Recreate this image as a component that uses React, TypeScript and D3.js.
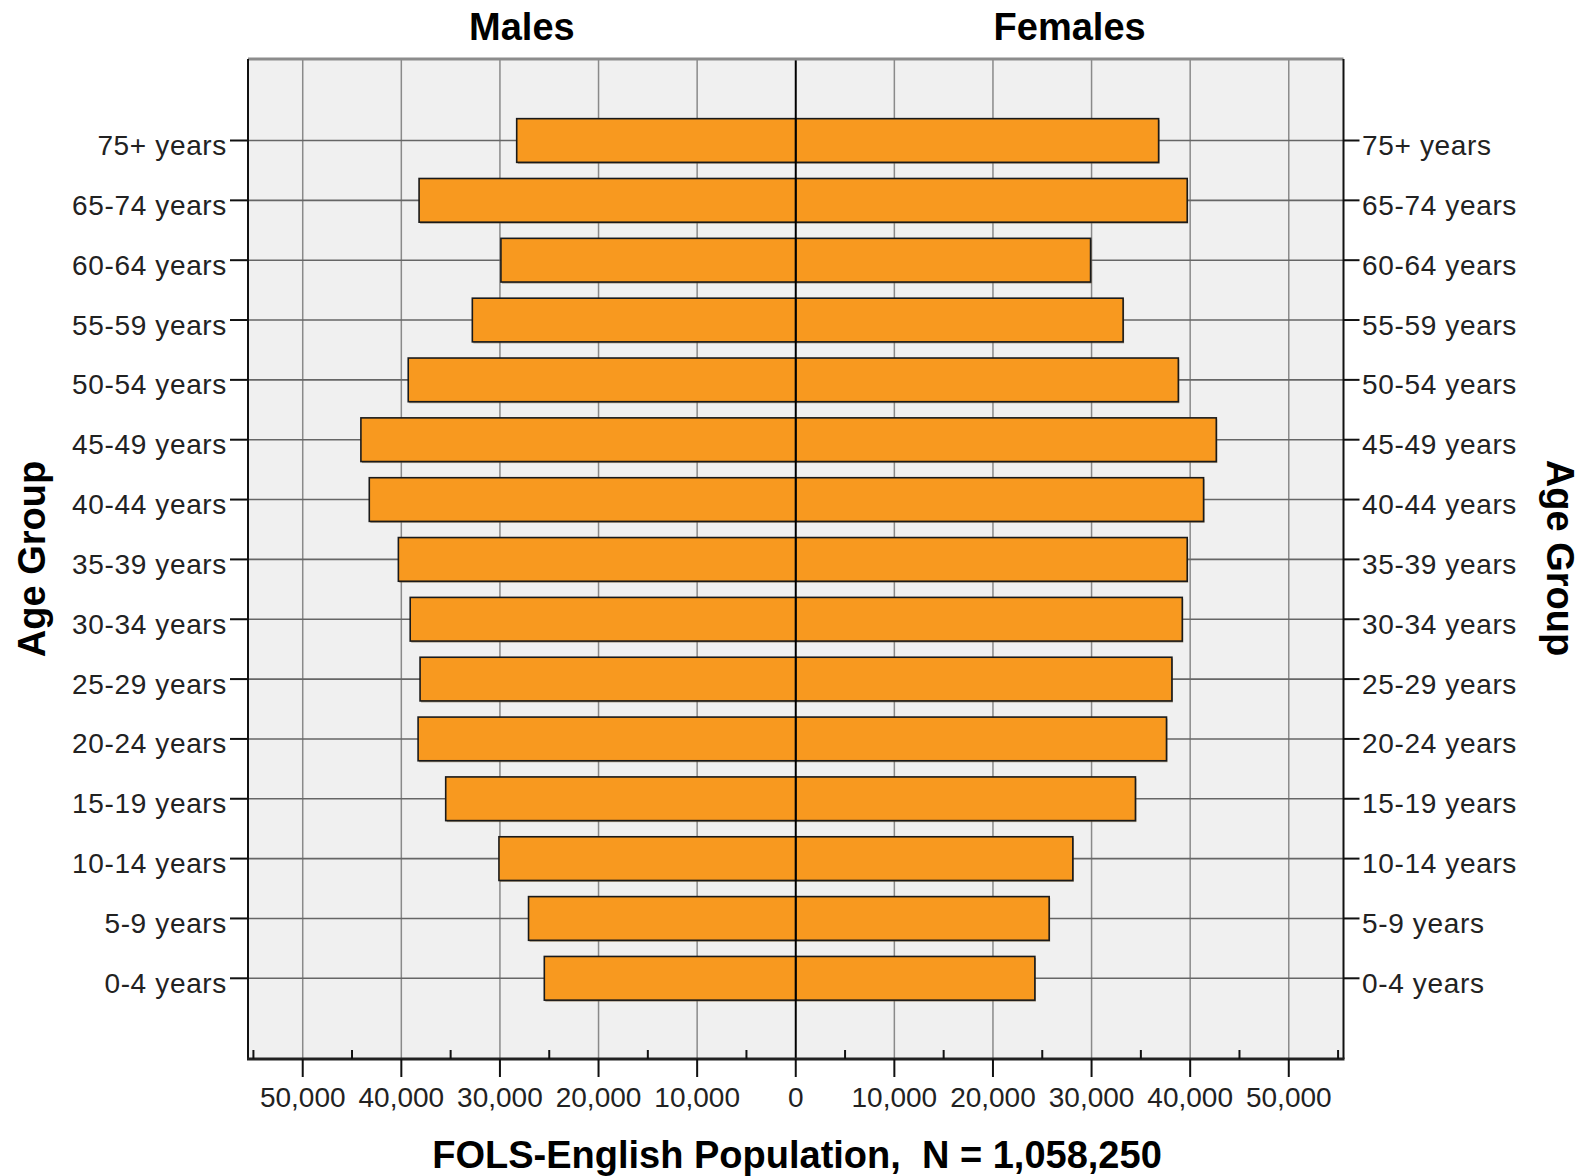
import React from "react";
import * as d3 from "d3";

const ageGroups = [
  "75+ years", "65-74 years", "60-64 years", "55-59 years", "50-54 years",
  "45-49 years", "40-44 years", "35-39 years", "30-34 years", "25-29 years",
  "20-24 years", "15-19 years", "10-14 years", "5-9 years", "0-4 years",
];
const males = [28300, 38200, 29900, 32800, 39300, 44100, 43250, 40300, 39100, 38100, 38300, 35500, 30100, 27100, 25500];
const females = [36800, 39700, 29900, 33200, 38800, 42650, 41360, 39700, 39200, 38150, 37600, 34450, 28100, 25700, 24250];
const majorTicks = [-50000, -40000, -30000, -20000, -10000, 0, 10000, 20000, 30000, 40000, 50000];
const minorTicks = [-55000, -45000, -35000, -25000, -15000, -5000, 5000, 15000, 25000, 35000, 45000, 55000];

const W = 1589, H = 1176;
const L = 248, R = 1343.5, T = 59, B = 1059;
const FONT = "'Liberation Sans', Arial, sans-serif";

export default function App() {
  const x = d3.scaleLinear().domain([-55550, 55550]).range([L, R]);
  const y = d3.scalePoint<string>().domain(ageGroups).range([140.5, 978.3]);
  const step = y.step();
  const barH = step * 0.73;
  const fmt = d3.format(",");
  const x0 = x(0);

  return (
    <svg width={W} height={H} style={{ position: "absolute", left: 0, top: 0, background: "#fff" }} fontFamily={FONT}>
      <rect x={L} y={T} width={R - L} height={B - T} fill="#F0F0F0" />
      {majorTicks.filter(t => t !== 0).map(t => (
        <line key={"vg" + t} x1={x(t)} x2={x(t)} y1={T} y2={B} stroke="#8a8a8a" strokeWidth={1.5} />
      ))}
      {ageGroups.map(g => (
        <line key={"hg" + g} x1={L} x2={R} y1={y(g)!} y2={y(g)!} stroke="#666" strokeWidth={1.6} />
      ))}
      {ageGroups.map((g, i) => {
        const cy = y(g)!;
        const xm = x(-males[i]);
        const xf = x(females[i]);
        return (
          <g key={"b" + g}>
            <rect x={xm + 1} y={cy - barH / 2 + 1.5} width={x0 - xm} height={barH} fill="#6b5330" opacity={0.55} />
            <rect x={xm} y={cy - barH / 2} width={x0 - xm} height={barH} fill="#F8991F" stroke="#1a1a1a" strokeWidth={1.6} />
            <rect x={x0 + 1} y={cy - barH / 2 + 1.5} width={xf - x0} height={barH} fill="#6b5330" opacity={0.55} />
            <rect x={x0} y={cy - barH / 2} width={xf - x0} height={barH} fill="#F8991F" stroke="#1a1a1a" strokeWidth={1.6} />
          </g>
        );
      })}
      <line x1={x0} x2={x0} y1={T} y2={B} stroke="#000" strokeWidth={2} />
      <line x1={L} x2={R} y1={T} y2={T} stroke="#8c8c8c" strokeWidth={3} />
      <line x1={L} x2={L} y1={T} y2={B} stroke="#111" strokeWidth={2} />
      <line x1={R} x2={R} y1={T} y2={B} stroke="#111" strokeWidth={2} />
      <line x1={L - 1} x2={R + 1} y1={B} y2={B} stroke="#222" strokeWidth={3} />
      {majorTicks.map(t => (
        <line key={"mt" + t} x1={x(t)} x2={x(t)} y1={B} y2={B + 18} stroke="#111" strokeWidth={2} />
      ))}
      {minorTicks.map(t => (
        <line key={"nt" + t} x1={x(t)} x2={x(t)} y1={B} y2={B - 9} stroke="#111" strokeWidth={2} />
      ))}
      {majorTicks.map(t => (
        <text key={"tl" + t} x={x(t)} y={1106.5} fontSize={28} textAnchor="middle" fill="#222">
          {fmt(Math.abs(t))}
        </text>
      ))}
      {ageGroups.map(g => (
        <g key={"cl" + g}>
          <line x1={L - 18} x2={L} y1={y(g)!} y2={y(g)!} stroke="#111" strokeWidth={2} />
          <line x1={R} x2={R + 16} y1={y(g)!} y2={y(g)!} stroke="#111" strokeWidth={2} />
          <text x={227} y={y(g)! + 14.5} fontSize={28} letterSpacing={0.65} textAnchor="end" fill="#222">{g}</text>
          <text x={1362} y={y(g)! + 14.5} fontSize={28} letterSpacing={0.65} textAnchor="start" fill="#222">{g}</text>
        </g>
      ))}
      <text x={(L + x0) / 2} y={39.5} fontSize={38} fontWeight="bold" textAnchor="middle" fill="#000">Males</text>
      <text x={(x0 + R) / 2} y={39.5} fontSize={38} fontWeight="bold" textAnchor="middle" fill="#000">Females</text>
      <text x={797} y={1168} fontSize={38} fontWeight="bold" textAnchor="middle" fill="#000" style={{ whiteSpace: "pre" }}>
        {"FOLS-English Population,  N = 1,058,250"}
      </text>
      <text transform={`translate(45,559) rotate(-90)`} fontSize={38} fontWeight="bold" textAnchor="middle" fill="#000">Age Group</text>
      <text transform={`translate(1547,558) rotate(90)`} fontSize={38} fontWeight="bold" textAnchor="middle" fill="#000">Age Group</text>
    </svg>
  );
}
